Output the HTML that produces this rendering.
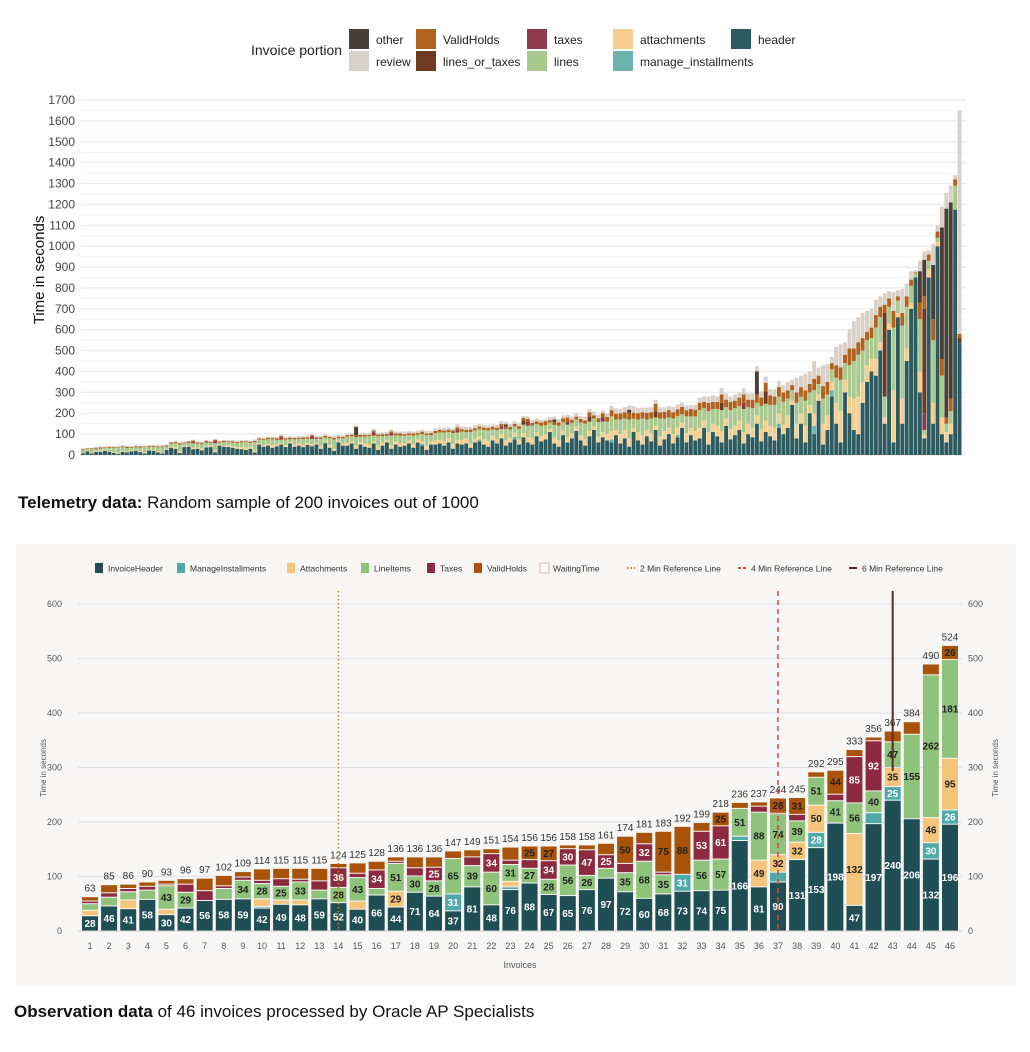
<!DOCTYPE html>
<html><head><meta charset="utf-8">
<style>
body{margin:0;background:#fff;font-family:"Liberation Sans",sans-serif;}
#wrap{position:relative;width:1030px;height:1052px;overflow:hidden;background:#fff;}
svg{position:absolute;left:0;top:0;}
.cap{position:absolute;left:18px;font-size:17px;color:#111;}
</style></head>
<body>
<div id="wrap">
<svg id="top" width="1030" height="480"></svg>
<div class="cap" style="top:493px"><b>Telemetry data:</b> Random sample of 200 invoices out of 1000</div>
<div style="position:absolute;left:16px;top:544px;width:1000px;height:442px;background:#f8f7f5"></div>
<svg id="bot" width="1030" height="1052" style="top:0"></svg>
<div class="cap" style="top:1002px;left:14px"><b>Observation data</b> of 46 invoices processed by Oracle AP Specialists</div>
</div>
<script>
const NS="http://www.w3.org/2000/svg";
function mk(p,tag,a,txt){const e=document.createElementNS(NS,tag);for(const k in a)e.setAttribute(k,a[k]);if(txt!==undefined)e.textContent=txt;p.appendChild(e);return e;}

/* ---------- TOP CHART DATA ---------- */
const tHeader=[8,18,8,15,15,20,16,10,5,15,12,18,20,14,8,22,20,12,8,25,
35,30,10,38,40,28,30,22,35,38,12,45,40,38,35,30,28,25,30,12,
50,40,45,35,42,50,38,55,40,45,38,48,42,50,30,55,35,20,60,45,
45,55,30,50,40,35,55,25,45,60,30,50,40,45,55,35,60,45,25,50,
50,55,45,60,30,55,50,55,35,60,65,50,40,70,55,80,45,60,75,50,
85,60,50,90,65,75,110,55,40,95,60,80,115,70,45,90,120,60,85,70,
60,95,55,80,40,110,70,50,90,65,120,45,75,100,55,85,130,60,95,70,
80,130,50,110,90,60,140,75,95,120,55,100,85,150,65,110,90,70,130,100,
130,240,80,150,60,200,100,260,50,120,280,150,60,300,200,120,100,250,350,400,
380,500,150,600,60,660,150,450,700,850,300,80,850,150,1000,100,60,100,1175,535];
const tLines=[12,8,15,12,14,10,15,20,25,18,18,12,15,18,25,14,15,20,25,12,
15,18,30,12,14,20,18,22,15,14,35,10,15,16,18,20,22,25,20,40,
18,25,20,28,22,18,25,12,25,20,28,22,25,18,35,15,30,45,12,25,
30,25,40,25,35,40,28,45,30,20,45,30,38,35,25,40,22,35,50,30,
35,35,40,30,50,35,40,30,55,40,35,45,50,30,45,25,55,40,30,50,
40,55,60,40,50,45,30,60,70,40,60,50,35,60,75,45,40,70,50,60,
70,50,70,55,90,45,60,80,50,70,40,85,60,50,75,55,40,80,55,70,
85,60,100,70,80,100,55,90,85,70,110,80,95,60,110,80,100,110,80,110,
80,50,100,80,120,60,110,50,120,100,60,120,150,80,150,180,200,150,120,100,
150,120,100,80,300,60,350,200,80,20,250,20,40,300,20,200,40,60,115,0];
const tAttach=[3,2,4,3,2,4,3,4,5,4,3,5,2,4,6,3,4,5,4,4,
5,8,10,6,4,8,6,10,5,6,10,4,6,8,6,8,10,12,8,10,
6,8,10,12,8,6,10,8,10,12,10,8,10,8,12,8,15,10,8,10,
12,10,15,12,14,15,10,20,15,12,18,14,15,12,15,18,15,12,20,15,
20,18,22,20,25,18,22,25,20,18,15,25,28,22,20,20,25,22,20,25,
20,25,30,18,25,22,15,28,30,22,25,24,20,25,30,25,15,28,25,30,
40,25,45,40,40,20,40,45,30,40,20,45,40,30,45,35,25,45,35,45,
50,35,60,40,50,55,35,50,45,45,55,50,45,40,60,55,50,60,50,45,
60,20,70,50,80,40,60,30,100,70,40,100,150,60,80,150,180,100,80,60,
80,40,30,30,250,20,120,60,30,0,100,20,40,100,20,80,50,50,0,0];
const tHolds=[5,3,4,5,6,3,5,4,3,5,6,4,5,5,3,4,5,4,5,5,
5,6,6,4,7,5,6,5,7,5,6,5,6,4,6,5,6,4,6,6,
6,5,7,6,8,7,6,8,7,6,8,7,6,9,7,8,6,7,8,7,
8,7,9,10,8,7,9,8,10,9,8,9,10,8,9,10,8,12,9,10,
10,12,10,11,12,10,12,11,12,10,12,11,12,13,11,12,12,13,12,13,
12,15,14,13,16,20,12,15,16,18,20,15,14,18,16,20,15,18,20,22,
30,28,30,30,32,28,30,30,32,30,35,30,32,35,30,32,35,30,35,32,
35,30,40,35,35,40,35,40,35,40,40,35,40,40,40,40,45,40,45,45,
40,25,50,45,50,40,55,40,60,60,30,60,60,40,80,60,60,60,40,50,
60,50,40,40,80,20,60,50,30,5,80,60,30,100,30,80,30,60,30,20];
const tReview=[4,3,4,3,3,4,3,4,5,3,5,4,3,4,4,4,3,5,5,4,
3,4,5,4,3,5,6,4,5,6,5,6,5,6,7,6,5,6,6,7,
5,6,4,7,6,7,8,6,6,7,5,8,8,7,8,8,7,12,9,8,
7,8,8,7,9,10,8,9,8,10,9,10,9,12,10,9,11,10,11,10,
12,10,12,12,10,14,12,13,12,14,12,13,12,12,14,13,12,14,13,14,
10,12,13,14,12,12,15,14,16,15,12,16,16,14,17,15,18,16,14,16,
20,25,22,24,20,30,24,22,25,24,20,23,22,20,25,24,20,22,20,23,
25,25,30,30,25,30,30,25,30,25,30,30,30,25,30,30,30,35,30,35,
40,25,70,55,80,60,85,40,100,85,30,88,110,60,90,130,120,120,100,90,
73,50,55,35,90,30,115,60,40,10,50,40,20,100,30,100,75,80,20,1070];
const taxIdx=[25,30,45,52,66,70,85,95,101,110,118,150,191];
const taxVal=[8,10,10,12,15,12,15,12,18,15,20,30,80];
const lotIdx=[100,115,130,145,155,182,191,199];
const lotVal=[20,25,30,35,60,400,500,25];
const otherIdx=[62,96,107,124,153,190,191,193,195,196,197];
const otherVal=[40,10,12,15,110,150,175,260,630,1000,940];
const instIdx=[28,55,77,90,98,120,135,158,166,170];
const instVal=[5,6,8,10,12,15,12,20,40,30];
const tTicks=[0,100,200,300,400,500,600,700,800,900,1000,1100,1200,1300,1400,1500,1600,1700];
const tLegend=[["other","#4a3f36"],["review","#d9d0c7"],["ValidHolds","#b0631e"],["lines_or_taxes","#6e3a22"],["taxes","#8b3a4e"],["lines","#a9c98f"],["attachments","#f5cf90"],["manage_installments","#6fb3b0"],["header","#2d5b60"]];

(function(){
const s=document.getElementById('top');
const x0=81,x1=962,y0=455,N=200;
const step=(x1-x0)/N;
const ty=v=>y0-v*(355/1700);
const tx=i=>x0+i*step;
for(let v=0;v<=1700;v+=50){
  const g=mk(s,'line',{x1:x0,x2:x1+4,y1:ty(v),y2:ty(v),stroke:v%100?'#f4f4f4':'#ebebeb','stroke-width':v%100?1:1.3});
  
  
}
tTicks.forEach(v=>{const t=mk(s,'text',{x:75,y:ty(v)+4,'text-anchor':'end','font-size':12,fill:'#444'},v);

});
const yt=mk(s,'text',{x:44,y:270,'text-anchor':'middle','font-size':15,fill:'#111',transform:'rotate(-90 44 270)'},'Time in seconds');


function sparse(idx,val){const m={};idx.forEach((k,j)=>m[k]=val[j]);return m;}
const tax=sparse(taxIdx,taxVal),lot=sparse(lotIdx,lotVal),oth=sparse(otherIdx,otherVal),inst=sparse(instIdx,instVal);
for(let i=0;i<N;i++){
  const segs=[[tHeader[i],'#2d5b60'],[inst[i]||0,'#6fb3b0'],[tAttach[i],'#f5cf90'],[tLines[i],'#a9c98f'],[tax[i]||0,'#8b3a4e'],[lot[i]||0,'#6e3a22'],[tHolds[i],'#b0631e'],[oth[i]||0,'#4a3f36'],[tReview[i],'#d9d0c7']];
  let acc=0;
  segs.forEach(([v,c])=>{if(!v)return;const r=mk(s,'rect',{x:tx(i),y:ty(acc+v),width:step-0.5,height:ty(acc)-ty(acc+v),fill:c});
  
  
  acc+=v;});
}
const lt=mk(s,'text',{x:251,y:55,'font-size':14,fill:'#222'},'Invoice portion');


const cols=[349,416,527,613,731];
tLegend.forEach(([n,c],k)=>{const cx=cols[Math.floor(k/2)],cy=k%2?51:29;
 const r=mk(s,'rect',{x:cx,y:cy,width:20,height:20,fill:c});
 
 
 const t=mk(s,'text',{x:cx+27,y:cy+15,'font-size':12,fill:'#222'},n);
 
 });
})();

/* ---------- BOTTOM CHART DATA ---------- */
const bCats=[1,2,3,4,5,6,7,8,9,10,11,12,13,14,15,16,17,18,19,20,21,22,23,24,25,26,27,28,29,30,31,32,33,34,35,36,37,38,39,40,41,42,43,44,45,46];
const bHeader=[28,46,41,58,30,42,56,58,59,42,49,48,59,52,40,66,44,71,64,37,81,48,76,88,67,65,76,97,72,60,68,73,74,75,166,81,90,131,153,198,47,197,240,206,132,196];
const bInstall=[0,0,0,0,0,0,0,0,0,3,0,0,0,0,0,0,0,0,0,31,0,0,5,0,0,0,0,0,0,0,0,31,0,0,8,0,18,0,28,0,0,20,25,0,30,26];
const bAttach=[10,0,16,0,10,0,0,0,0,14,8,9,0,0,15,0,29,0,0,0,0,0,10,0,0,0,0,0,0,0,0,0,0,0,0,49,32,32,50,0,132,0,35,0,46,95];
const bLines=[12,16,15,17,43,29,0,20,34,28,25,33,16,28,43,12,51,30,28,65,39,60,31,27,28,56,26,18,35,68,35,0,56,57,51,88,74,39,51,41,56,40,47,155,262,181];
const bTaxes=[5,8,6,7,3,15,18,5,6,6,14,5,17,36,8,34,4,15,25,0,16,34,8,16,34,30,47,25,17,32,5,0,53,61,0,11,2,12,0,12,85,92,0,0,0,0];
const bHolds=[8,15,8,8,7,10,23,19,10,21,19,20,23,8,19,16,8,20,19,14,13,9,24,25,27,7,9,21,50,21,75,88,16,25,11,8,28,31,10,44,13,7,20,23,20,26];
const bTotals=[63,85,86,90,93,96,97,102,109,114,115,115,115,124,125,128,136,136,136,147,149,151,154,156,156,158,158,161,174,181,183,192,199,218,236,237,244,245,292,295,333,356,367,384,490,524];
const bTicks=[0,100,200,300,400,500,600];
const refMinutes=[2,4,6];
const refBars=[14,37,43];

(function(){
const s=document.getElementById('bot');
const y0=931,top=604,xl=78,xr=962;
const by=v=>y0-v*(y0-top)/600;
const bx=c=>90+(c-1)*(860/45);
bTicks.forEach(v=>{
 const g=mk(s,'line',{x1:xl,x2:xr,y1:by(v),y2:by(v),stroke:v?'#e3e3ea':'#d8d8d8','stroke-width':1.2});
 
 
 const a=mk(s,'text',{x:62,y:by(v)+3,'text-anchor':'end','font-size':9,fill:'#555'},v);
 
 
 const b=mk(s,'text',{x:968,y:by(v)+3,'font-size':9,fill:'#555'},v);
 
 
});
const t1=mk(s,'text',{x:46,y:768,'text-anchor':'middle','font-size':8,fill:'#555',transform:'rotate(-90 46 768)'},'Time in seconds');


const t2=mk(s,'text',{x:998,y:768,'text-anchor':'middle','font-size':8,fill:'#555',transform:'rotate(-90 998 768)'},'Time in seconds');


const xt=mk(s,'text',{x:520,y:968,'text-anchor':'middle','font-size':9,fill:'#555'},'Invoices');


const cols=['#1f4e54','#4fa9a8','#f6c57c','#8fc27a','#8d2a40','#a9530a'];
const txtc=['#fff','#fff','#222','#222','#fff','#222'];
const W=16;
bCats.forEach((c,i)=>{
 const segs=[bHeader[i],bInstall[i],bAttach[i],bLines[i],bTaxes[i],bHolds[i]];
 let acc=0;
 segs.forEach((v,k)=>{if(!v)return;
  const r=mk(s,'rect',{x:bx(c)-W/2,y:by(acc+v)+0.5,width:W,height:Math.max(0.5,by(acc)-by(acc+v)-1),fill:cols[k]});
  
  
  if(v>=25){const t=mk(s,'text',{x:bx(c),y:(by(acc)+by(acc+v))/2+3.5,'text-anchor':'middle','font-size':10,'font-weight':'bold',fill:txtc[k]},v);
   
   }
  acc+=v;});
 const t=mk(s,'text',{x:bx(c),y:by(bTotals[i])-5,'text-anchor':'middle','font-size':10,fill:'#333'},bTotals[i]);
 
 
 const xl2=mk(s,'text',{x:bx(c),y:949,'text-anchor':'middle','font-size':9,fill:'#555'},c);
 
 
});
const refStyle=[['#c9821e','1.5,2.5',1.5],['#e0413b','5,4',1.5],['#5a2a22','',2]];
refBars.forEach((c,k)=>{
 const l=mk(s,'line',{x1:bx(c),x2:bx(c),y1:591,y2:k==2?by(bTotals[c-1])+40:y0,stroke:refStyle[k][0],'stroke-width':refStyle[k][2],'stroke-dasharray':refStyle[k][1]});
 
 
});
const leg=[['InvoiceHeader','#1f4e54','box'],['ManageInstallments','#4fa9a8','box'],['Attachments','#f6c57c','box'],['LineItems','#8fc27a','box'],['Taxes','#8d2a40','box'],['ValidHolds','#a9530a','box'],['WaitingTime','#e8a7b5','outline'],['2 Min Reference Line','#c9821e','dot'],['4 Min Reference Line','#e0413b','dash'],['6 Min Reference Line','#5a2a22','solid']];
const lx=[95,177,287,361,427,474,540,627,738,849];
leg.forEach(([n,c,st],k)=>{
 const x=lx[k],y=568;
 if(st=='box'){const r=mk(s,'rect',{x:x,y:y-5,width:8,height:10,fill:c});}
 else if(st=='outline'){const r=mk(s,'rect',{x:x,y:y-5,width:9,height:10,fill:'#fff',stroke:c});}
 else {const l=mk(s,'line',{x1:x,x2:x+8,y1:y,y2:y,stroke:c,'stroke-width':2,'stroke-dasharray':st=='dot'?'1.5,2':st=='dash'?'3,2':''});}
 const t=mk(s,'text',{x:x+13,y:y+3.5,'font-size':8.5,fill:'#333'},n);
 
 
});
})();
</script>
</body></html>
